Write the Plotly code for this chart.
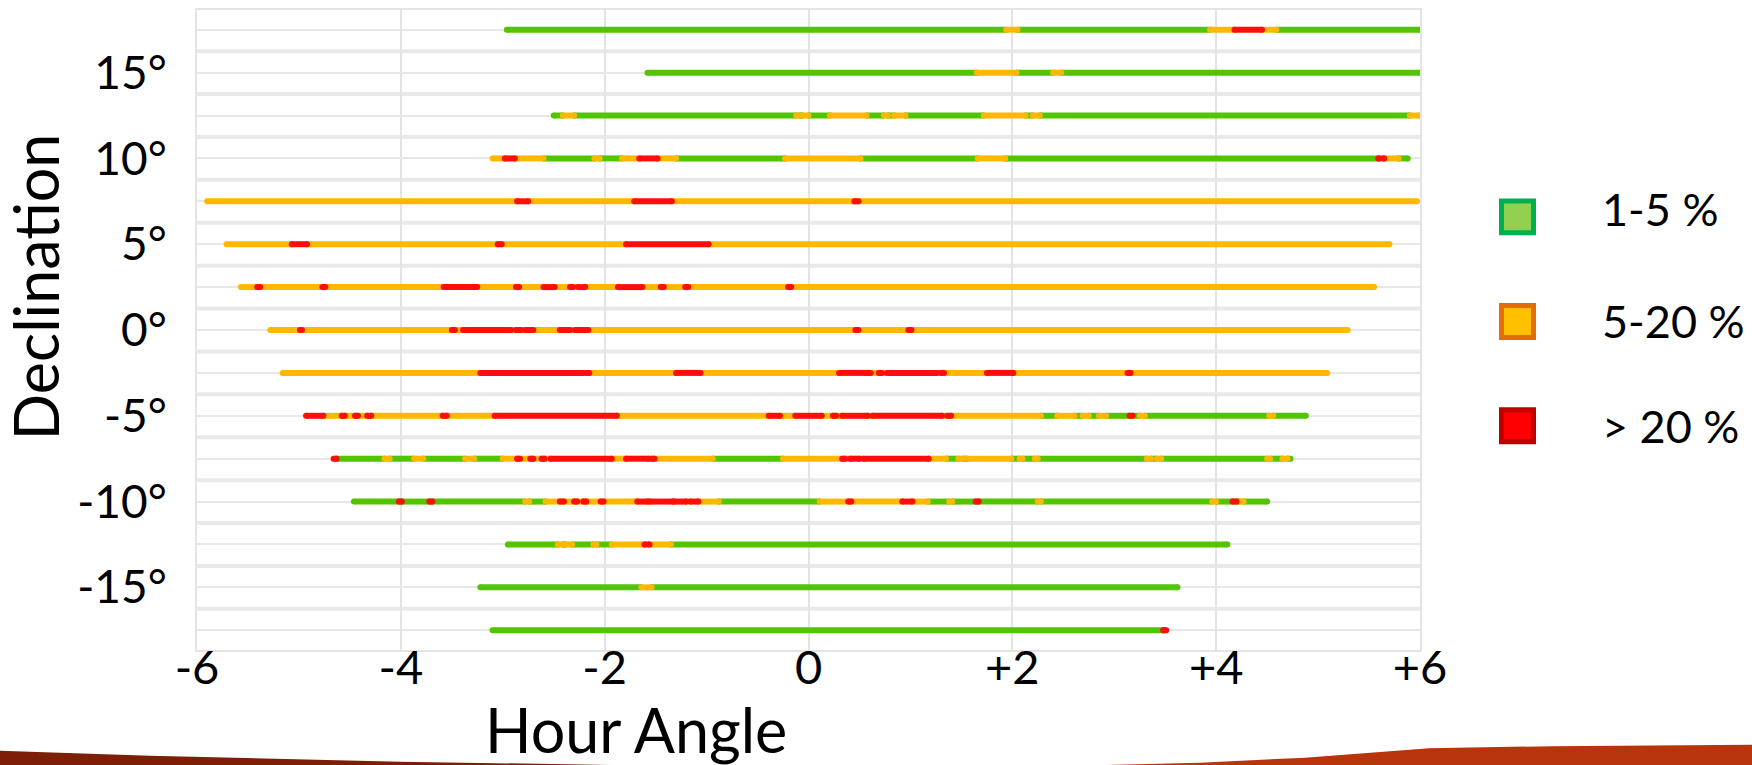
import plotly.graph_objects as go

# ---------------------------------------------------------------------------
# Data: one row per declination strip.  Each run is (hour_start, hour_end, class)
# with class "g" = 1-5 %, "o" = 5-20 %, "r" = > 20 %.
# ---------------------------------------------------------------------------
DECLINATIONS = [17.5, 15, 12.5, 10, 7.5, 5, 2.5, 0, -2.5, -5, -7.5, -10, -12.5, -15, -17.5]

RUNS_P175 = [(-2.96, 1.94, "g"), (1.94, 2.05, "o"), (2.05, 3.94, "g"), (3.94, 4.18, "o"),
             (4.18, 4.45, "r"), (4.45, 4.59, "o"), (4.59, 6.0, "g")]
RUNS_P150 = [(-1.58, 1.65, "g"), (1.65, 2.04, "o"), (2.04, 2.40, "g"), (2.40, 2.48, "o"),
             (2.48, 6.0, "g")]
RUNS_P125 = [(-2.50, -2.41, "g"), (-2.41, -2.30, "o"), (-2.30, -0.12, "g"), (-0.12, -0.09, "o"),
             (-0.09, -0.06, "g"), (-0.06, 0.0, "o"), (0.0, 0.21, "g"), (0.21, 0.57, "o"),
             (0.57, 0.74, "g"), (0.74, 0.78, "o"), (0.78, 0.84, "g"), (0.84, 0.95, "o"),
             (0.95, 1.72, "g"), (1.72, 2.13, "o"), (2.13, 2.20, "g"), (2.20, 2.27, "o"),
             (2.27, 5.90, "g"), (5.90, 6.0, "o")]
RUNS_P100 = [(-3.10, -2.98, "o"), (-2.98, -2.88, "r"), (-2.88, -2.60, "o"), (-2.60, -2.10, "g"),
             (-2.10, -2.05, "o"), (-2.05, -1.83, "g"), (-1.83, -1.66, "o"), (-1.66, -1.48, "r"),
             (-1.48, -1.30, "o"), (-1.30, -0.23, "g"), (-0.23, 0.51, "o"), (0.51, 1.66, "g"),
             (1.66, 1.93, "o"), (1.93, 5.59, "g"), (5.59, 5.65, "r"), (5.65, 5.79, "o"),
             (5.79, 5.88, "g")]
RUNS_P075 = [(-5.90, -2.86, "o"), (-2.86, -2.75, "r"), (-2.75, -1.71, "o"), (-1.71, -1.34, "r"),
             (-1.34, 0.45, "o"), (0.45, 0.49, "r"), (0.49, 5.97, "o")]
RUNS_P050 = [(-5.71, -5.07, "o"), (-5.07, -4.92, "r"), (-4.92, -3.05, "o"), (-3.05, -3.01, "r"),
             (-3.01, -1.79, "o"), (-1.79, -0.98, "r"), (-0.98, 5.70, "o")]
RUNS_P025 = [(-5.57, -5.41, "o"), (-5.41, -5.38, "r"), (-5.38, -4.77, "o"), (-4.77, -4.74, "r"),
             (-4.74, -3.58, "o"), (-3.58, -3.25, "r"), (-3.25, -2.87, "o"), (-2.87, -2.84, "r"),
             (-2.84, -2.60, "o"), (-2.60, -2.49, "r"), (-2.49, -2.34, "o"), (-2.34, -2.31, "r"),
             (-2.31, -2.26, "o"), (-2.26, -2.19, "r"), (-2.19, -1.87, "o"), (-1.87, -1.63, "r"),
             (-1.63, -1.45, "o"), (-1.45, -1.42, "r"), (-1.42, -1.21, "o"), (-1.21, -1.18, "r"),
             (-1.18, -0.20, "o"), (-0.20, -0.17, "r"), (-0.17, 5.55, "o")]
RUNS_P000 = [(-5.28, -4.99, "o"), (-4.99, -4.97, "r"), (-4.97, -3.50, "o"), (-3.50, -3.47, "r"),
             (-3.47, -3.39, "o"), (-3.39, -2.92, "r"), (-2.92, -2.87, "o"), (-2.87, -2.82, "r"),
             (-2.82, -2.78, "o"), (-2.78, -2.70, "r"), (-2.70, -2.44, "o"), (-2.44, -2.34, "r"),
             (-2.34, -2.29, "o"), (-2.29, -2.16, "r"), (-2.16, 0.46, "o"), (0.46, 0.49, "r"),
             (0.49, 0.98, "o"), (0.98, 1.01, "r"), (1.01, 5.29, "o")]
RUNS_M025 = [(-5.16, -3.22, "o"), (-3.22, -2.21, "r"), (-2.21, -2.18, "o"), (-2.18, -2.15, "r"),
             (-2.15, -1.30, "o"), (-1.30, -1.06, "r"), (-1.06, 0.30, "o"), (0.30, 0.56, "r"),
             (0.56, 0.58, "o"), (0.58, 0.61, "r"), (0.61, 0.69, "o"), (0.69, 0.72, "r"),
             (0.72, 0.77, "o"), (0.77, 1.26, "r"), (1.26, 1.30, "o"), (1.30, 1.33, "r"),
             (1.33, 1.75, "o"), (1.75, 2.01, "r"), (2.01, 3.13, "o"), (3.13, 3.16, "r"),
             (3.16, 5.09, "o")]
RUNS_M050 = [(-4.93, -4.76, "r"), (-4.76, -4.58, "o"), (-4.58, -4.55, "r"), (-4.55, -4.45, "o"),
             (-4.45, -4.42, "r"), (-4.42, -4.33, "o"), (-4.33, -4.29, "r"), (-4.29, -3.59, "o"),
             (-3.59, -3.55, "r"), (-3.55, -3.08, "o"), (-3.08, -1.88, "r"), (-1.88, -0.39, "o"),
             (-0.39, -0.28, "r"), (-0.28, -0.13, "o"), (-0.13, 0.13, "r"), (0.13, 0.24, "o"),
             (0.24, 0.27, "r"), (0.27, 0.33, "o"), (0.33, 0.58, "r"), (0.58, 0.63, "o"),
             (0.63, 1.31, "r"), (1.31, 1.36, "o"), (1.36, 1.40, "r"), (1.40, 2.28, "o"),
             (2.28, 2.44, "g"), (2.44, 2.61, "o"), (2.61, 2.69, "g"), (2.69, 2.75, "o"),
             (2.75, 2.85, "g"), (2.85, 2.92, "o"), (2.92, 3.15, "g"), (3.15, 3.18, "r"),
             (3.18, 3.25, "g"), (3.25, 3.30, "o"), (3.30, 4.52, "g"), (4.52, 4.56, "o"),
             (4.56, 4.88, "g")]
RUNS_M075 = [(-4.66, -4.63, "r"), (-4.63, -4.16, "g"), (-4.16, -4.11, "o"), (-4.11, -3.87, "g"),
             (-3.87, -3.78, "o"), (-3.78, -3.37, "g"), (-3.37, -3.28, "o"), (-3.28, -3.00, "g"),
             (-3.00, -2.86, "o"), (-2.86, -2.83, "r"), (-2.83, -2.73, "o"), (-2.73, -2.70, "r"),
             (-2.70, -2.62, "o"), (-2.62, -2.59, "r"), (-2.59, -2.53, "o"), (-2.53, -1.93, "r"),
             (-1.93, -1.79, "o"), (-1.79, -1.57, "r"), (-1.57, -1.54, "o"), (-1.54, -1.51, "r"),
             (-1.51, -0.94, "o"), (-0.94, -0.25, "g"), (-0.25, 0.33, "o"), (0.33, 0.36, "r"),
             (0.36, 0.41, "o"), (0.41, 0.50, "r"), (0.50, 0.54, "o"), (0.54, 1.18, "r"),
             (1.18, 1.35, "o"), (1.35, 1.47, "g"), (1.47, 1.52, "o"), (1.52, 1.56, "g"),
             (1.56, 1.99, "o"), (1.99, 2.07, "g"), (2.07, 2.10, "o"), (2.10, 2.22, "g"),
             (2.22, 2.25, "o"), (2.25, 3.32, "g"), (3.32, 3.36, "o"), (3.36, 3.42, "g"),
             (3.42, 3.46, "o"), (3.46, 4.50, "g"), (4.50, 4.53, "o"), (4.53, 4.65, "g"),
             (4.65, 4.70, "o"), (4.70, 4.73, "g")]
RUNS_M100 = [(-4.46, -4.02, "g"), (-4.02, -3.99, "r"), (-3.99, -3.72, "g"), (-3.72, -3.69, "r"),
             (-3.69, -2.78, "g"), (-2.78, -2.74, "o"), (-2.74, -2.58, "g"), (-2.58, -2.44, "o"),
             (-2.44, -2.40, "r"), (-2.40, -2.30, "o"), (-2.30, -2.27, "r"), (-2.27, -2.21, "o"),
             (-2.21, -2.18, "r"), (-2.18, -2.04, "o"), (-2.04, -2.01, "r"), (-2.01, -1.68, "o"),
             (-1.68, -1.58, "r"), (-1.58, -1.56, "o"), (-1.56, -1.33, "r"), (-1.33, -1.32, "o"),
             (-1.32, -1.20, "r"), (-1.20, -1.16, "o"), (-1.16, -1.08, "r"), (-1.08, -0.88, "o"),
             (-0.88, 0.11, "g"), (0.11, 0.39, "o"), (0.39, 0.42, "r"), (0.42, 0.92, "o"),
             (0.92, 1.02, "r"), (1.02, 1.17, "o"), (1.17, 1.38, "g"), (1.38, 1.41, "o"),
             (1.41, 1.64, "g"), (1.64, 1.67, "r"), (1.67, 2.25, "g"), (2.25, 2.28, "o"),
             (2.28, 3.96, "g"), (3.96, 4.00, "o"), (4.00, 4.16, "g"), (4.16, 4.20, "r"),
             (4.20, 4.23, "g"), (4.23, 4.27, "o"), (4.27, 4.50, "g")]
RUNS_M125 = [(-2.95, -2.46, "g"), (-2.46, -2.41, "o"), (-2.41, -2.38, "g"), (-2.38, -2.32, "o"),
             (-2.32, -2.11, "g"), (-2.11, -2.08, "o"), (-2.08, -1.93, "g"), (-1.93, -1.61, "o"),
             (-1.61, -1.56, "r"), (-1.56, -1.35, "o"), (-1.35, 4.11, "g")]
RUNS_M150 = [(-3.22, -1.64, "g"), (-1.64, -1.54, "o"), (-1.54, 3.62, "g")]
RUNS_M175 = [(-3.10, 3.48, "g"), (3.48, 3.51, "r")]

ROW_RUNS = [RUNS_P175, RUNS_P150, RUNS_P125, RUNS_P100, RUNS_P075, RUNS_P050, RUNS_P025,
            RUNS_P000, RUNS_M025, RUNS_M050, RUNS_M075, RUNS_M100, RUNS_M125, RUNS_M150,
            RUNS_M175]

CLASS_KEYS = ["g", "o", "r"]
CLASS_LABELS = ["1-5 %", "5-20 %", "> 20 %"]
LINE_COLORS = ["#52c400", "#ffb800", "#ff0d0d"]
SWATCH_FILLS = ["#92d050", "#ffc000", "#ff0000"]
SWATCH_EDGES = ["#00b050", "#e46c0a", "#c00000"]

X_TICKS = [-6, -4, -2, 0, 2, 4, 6]
X_TICK_TEXT = ["-6", "-4", "-2", "0", "+2", "+4", "+6"]
Y_TICKS = [15, 10, 5, 0, -5, -10, -15]
Y_TICK_TEXT = ["15°", "10°", "5°", "0°", "-5°", "-10°", "-15°"]

FONT = "Lato, 'Open Sans', sans-serif"

# Figure geometry (pixels)
W, H = 1752, 765
ML, MR, MT, MB = 197, 332, 8, 115
PW, PH = W - ML - MR, H - MT - MB


def px(x):
    return (x - ML) / PW


def py(y):
    return (H - MB - y) / PH


fig = go.Figure()

# One trace per class: every run becomes a short line, capped with round markers
for key, color in zip(CLASS_KEYS, LINE_COLORS):
    xs, ys = [], []
    for dec, runs in zip(DECLINATIONS, ROW_RUNS):
        for x0, x1, k in runs:
            if k == key:
                xs += [x0, x1, None]
                ys += [dec, dec, None]
    fig.add_trace(go.Scatter(
        x=xs, y=ys, mode="lines+markers",
        line=dict(color=color, width=6),
        marker=dict(color=color, size=6, line=dict(width=0)),
        showlegend=False, hoverinfo="skip",
    ))

shapes = []
# separators between the declination strips
for a, b in zip(DECLINATIONS[:-1], DECLINATIONS[1:]):
    mid = (a + b) / 2
    shapes.append(dict(type="line", xref="paper", yref="y", x0=0, x1=1, y0=mid, y1=mid,
                       line=dict(color="#e9e9e9", width=4), layer="below"))

# legend swatches
SWATCH_CY = [215.5, 320.5, 425]
TEXT_CY = [208, 320, 425]
SW = 37
for cy, fill, edge in zip(SWATCH_CY, SWATCH_FILLS, SWATCH_EDGES):
    shapes.append(dict(type="rect", xref="paper", yref="paper",
                       x0=px(1499 + 2.5), x1=px(1499 + SW - 2.5),
                       y0=py(cy - SW / 2 + 2.5), y1=py(cy + SW / 2 - 2.5),
                       fillcolor=fill, line=dict(color=edge, width=5)))

# decorative bands along the bottom edge
def path(points):
    d = "M " + " L ".join(f"{px(x):.5f},{py(y):.5f}" for x, y in points) + " Z"
    return d


shapes.append(dict(type="path", xref="paper", yref="paper",
                   path=path([(0, 751), (150, 756), (400, 762), (620, 765.5), (0, 765.5)]),
                   fillcolor="#7d1e06", line=dict(width=0)))
shapes.append(dict(type="path", xref="paper", yref="paper",
                   path=path([(1100, 765.5), (1200, 763), (1305, 758), (1429, 748.5),
                              (1552, 746.5), (1752, 745), (1752, 765.5)]),
                   fillcolor="#b8340a", line=dict(width=0)))

annotations = []
for cy, label in zip(TEXT_CY, CLASS_LABELS):
    annotations.append(dict(x=px(1600), y=py(cy), xref="paper", yref="paper",
                            xanchor="left", yanchor="middle", showarrow=False,
                            text=label, font=dict(family=FONT, size=45, color="black")))

annotations.append(dict(x=px(636), y=py(730), xref="paper", yref="paper",
                        xanchor="center", yanchor="middle", showarrow=False,
                        text="Hour Angle", font=dict(family=FONT, size=61, color="black")))
annotations.append(dict(x=px(35), y=py(286), xref="paper", yref="paper",
                        xanchor="center", yanchor="middle", showarrow=False, textangle=-90,
                        text="Declination", font=dict(family=FONT, size=61, color="black")))

fig.update_layout(
    width=W, height=H,
    margin=dict(l=ML, r=MR, t=MT, b=MB, pad=0),
    paper_bgcolor="white", plot_bgcolor="white",
    font=dict(family=FONT, color="black"),
    shapes=shapes, annotations=annotations,
    showlegend=False,
)
fig.update_xaxes(
    range=[-6, 6], tickvals=X_TICKS, ticktext=X_TICK_TEXT,
    tickfont=dict(family=FONT, size=47, color="black"),
    showgrid=True, gridcolor="#e4e4e4", gridwidth=2, zeroline=False,
    showline=True, mirror=True, linecolor="#e4e4e4", linewidth=2,
    ticks="", ticklabelstandoff=-24,
)
fig.update_yaxes(
    range=[-18.65, 18.65], tickvals=Y_TICKS, ticktext=Y_TICK_TEXT,
    tickfont=dict(family=FONT, size=46, color="black"),
    showgrid=True, gridcolor="#e8e8e8", gridwidth=1.5, zeroline=False,
    showline=True, mirror=True, linecolor="#e4e4e4", linewidth=2,
    ticks="", ticklabelstandoff=19,
    minor=dict(tickvals=[17.5, 12.5, 7.5, 2.5, -2.5, -7.5, -12.5, -17.5],
               showgrid=True, gridcolor="#e8e8e8", gridwidth=1.5, ticks=""),
)

fig.write_html("out.html")
